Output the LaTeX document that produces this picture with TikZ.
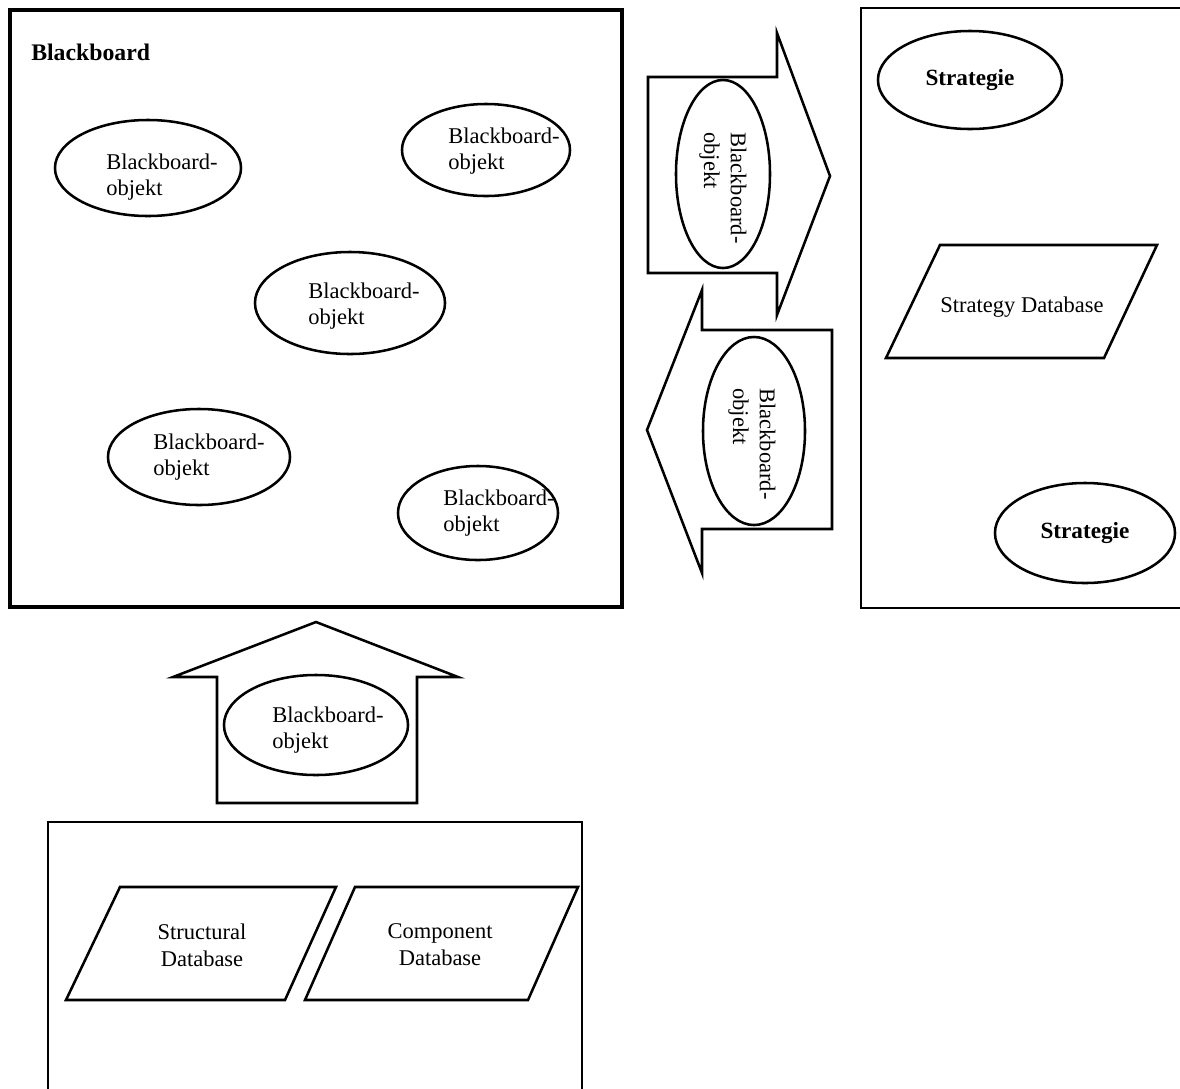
\documentclass[tikz,border=0pt]{standalone}
\usepackage{fontspec}
\setmainfont{Liberation Serif}
\usetikzlibrary{shapes.geometric}

\begin{document}
\begin{tikzpicture}[x=0.025cm, y=-0.025cm,
bbobject/.style 2 args={ellipse, draw, line width=1.8pt, minimum width=#1, minimum height=#2, inner sep=0pt},
bbtext/.style={align=left, inner sep=0pt, font=\fontsize{16}{19}\selectfont},
dbtext/.style={align=center, inner sep=0pt, font=\fontsize{16}{19}\selectfont},
strategytext/.style={inner sep=0pt, font=\fontsize{16.5}{19}\selectfont\bfseries},
blockarrow/.style={draw, line width=1.8pt, line join=miter},
framebox/.style={draw, line width=1.3pt}]

\useasboundingbox (0,0) rectangle (1180,1088);

\draw[line width=2.8pt](10,10) rectangle (622,607);
\node[strategytext, anchor=west, font=\fontsize{16.9}{19}\selectfont\bfseries](blackboard) at (31,52){Blackboard};

\node[bbobject={4.65cm}{2.4cm}](object1) at (148,168){};
\node[bbtext, anchor=west](object1text) at (106,177){Blackboard-\\objekt};
\node[bbobject={4.2cm}{2.3cm}](object2) at (486,150){};
\node[bbtext, anchor=west](object2text) at (448,151){Blackboard-\\objekt};
\node[bbobject={4.75cm}{2.55cm}](object3) at (350,303){};
\node[bbtext, anchor=west](object3text) at (308,306){Blackboard-\\objekt};
\node[bbobject={4.55cm}{2.4cm}](object4) at (199,457){};
\node[bbtext, anchor=west](object4text) at (153,457){Blackboard-\\objekt};
\node[bbobject={4cm}{2.35cm}](object5) at (478,513){};
\node[bbtext, anchor=west](object5text) at (443,513){Blackboard-\\objekt};

\draw[blockarrow](648,77) -- (777,77) -- (777,33) -- (830,176) -- (777,315) -- (777,273) -- (648,273) -- cycle;
\node[bbobject={2.35cm}{4.7cm}](outobject) at (723,174){};
\node[bbtext, rotate=-90, anchor=west](outobjecttext) at (723,132){Blackboard-\\objekt};

\draw[blockarrow](832,330) -- (702,330) -- (702,290) -- (647,430) -- (702,573) -- (702,529) -- (832,529) -- cycle;
\node[bbobject={2.55cm}{4.7cm}](inobject) at (754,431){};
\node[bbtext, rotate=-90, anchor=west](inobjecttext) at (752,388){Blackboard-\\objekt};

\draw[blockarrow](217,803) -- (217,677) -- (173,677) -- (316,622) -- (458,677) -- (417,677) -- (417,803) -- cycle;
\node[bbobject={4.6cm}{2.5cm}](upobject) at (316,725){};
\node[bbtext, anchor=west](upobjecttext) at (272,730){Blackboard-\\objekt};

\draw[framebox](861,8) rectangle (1200,608);
\node[bbobject={4.6cm}{2.45cm}, strategytext](strategy1) at (970,80){Strategie};
\draw[blockarrow](940,245) -- (1157,245) -- (1104,358) -- (886,358) -- cycle;
\node[dbtext](strategydb) at (1022,307){Strategy Database};
\node[bbobject={4.5cm}{2.5cm}, strategytext](strategy2) at (1085,533){Strategie};

\draw[framebox](48,822) rectangle (582,1100);
\draw[blockarrow](120,887) -- (336,887) -- (285,1000) -- (66,1000) -- cycle;
\node[dbtext](structuraldb) at (202,945){Structural\\Database};
\draw[blockarrow](355,887) -- (578,887) -- (528,1000) -- (305,1000) -- cycle;
\node[dbtext](componentdb) at (440,945){Component\\Database};

\end{tikzpicture}
\end{document}
